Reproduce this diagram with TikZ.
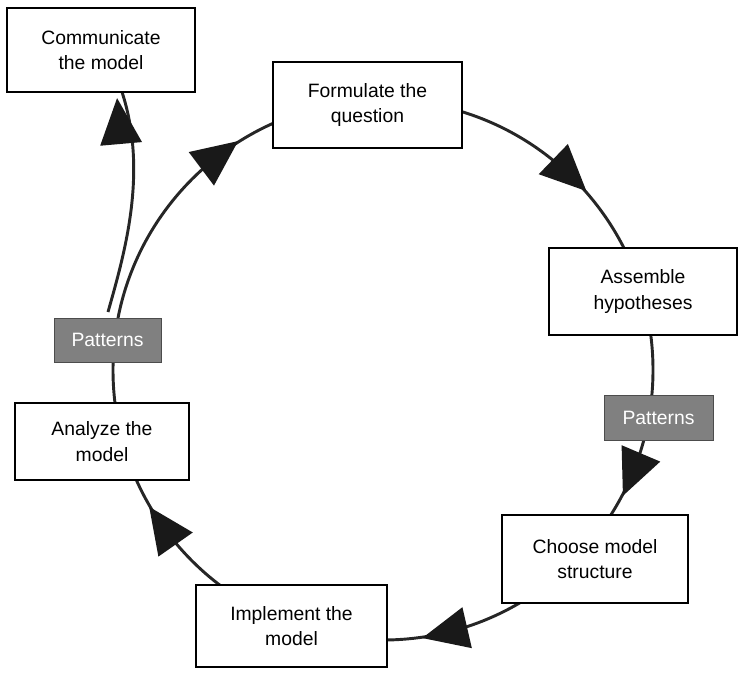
\documentclass[tikz,border=0pt]{standalone}
\usepackage{fontspec}
\setmainfont{Liberation Sans}
\usetikzlibrary{calc}
\begin{document}
\begin{tikzpicture}[x=0.75pt,y=0.75pt,
  box/.style={draw=black,line width=0.8pt,fill=white,align=center,inner sep=0pt,font=\fontsize{14.5}{19}\selectfont},
  pat/.style={draw=black!70,line width=0.5pt,fill=black!50,text=white,inner sep=0pt,font=\fontsize{14.5}{18}\selectfont},
  line/.style={line width=2.2pt,black!85},
  head/.style={fill=black!90}]
\useasboundingbox (0,0) rectangle (741,672);
\coordinate (c) at (383,302);
\draw[line] (c) circle (270);
\foreach \a in {46,-23,-77,215,127}{
  \path ($(c)+(\a:270)$) coordinate (p);
  \pgfmathsetmacro\r{\a-90}
  \fill[head,shift={(p)},rotate=\r] (22,0) -- (-24,21) -- (-24,-21) -- cycle;
}
\coordinate (b0) at (108,360);
\coordinate (b1) at (122,580);
\draw[line] (b0) .. controls (125,420) and (148,500) .. (b1);
\fill[head,shift={(119,552)},rotate=95] (22,0) -- (-24,21) -- (-24,-21) -- cycle;
\node[box,minimum width=141.75pt,minimum height=64.5pt] (f) at (367.5,567) {Formulate the\\question};
\node[box,minimum width=141pt,minimum height=65.25pt] (a) at (643,380.5) {Assemble\\hypotheses};
\node[pat,minimum width=81.75pt,minimum height=33.75pt] (pr) at (658.5,254.5) {Patterns};
\node[box,minimum width=139.5pt,minimum height=66pt] (s) at (595,113) {Choose model\\structure};
\node[box,minimum width=143.25pt,minimum height=61.5pt] (i) at (291.5,46) {Implement the\\model};
\node[box,minimum width=130.5pt,minimum height=57.75pt] (an) at (102,230.5) {Analyze the\\model};
\node[pat,minimum width=80.25pt,minimum height=33pt] (pl) at (107.5,332) {Patterns};
\node[box,minimum width=141pt,minimum height=63pt] (cm) at (101,622) {Communicate\\the model};
\end{tikzpicture}
\end{document}
